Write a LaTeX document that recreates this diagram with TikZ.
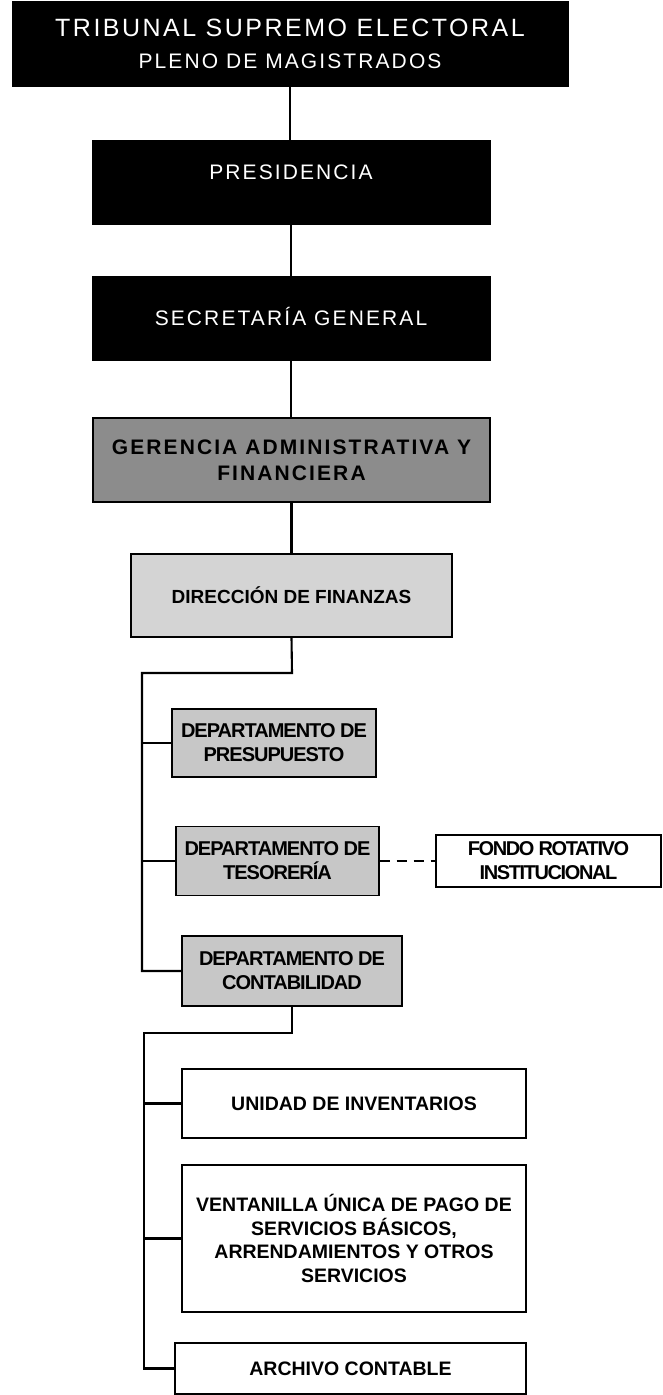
\documentclass[tikz,border=0pt]{standalone}
\usepackage{fontspec}
\setmainfont{Liberation Sans}
\newfontfamily\spacedfont[LetterSpace=10]{Liberation Sans}
\newfontfamily\gerfont[LetterSpace=10]{Liberation Sans}
\newfontfamily\deptfont[LetterSpace=-5]{Liberation Sans}
\newfontfamily\fondofont[LetterSpace=-7]{Liberation Sans}
\begin{document}
\begin{tikzpicture}[x=1pt,y=-1pt,
  blackbox/.style={fill=black,draw=black,text=white,inner sep=0pt,align=center,
    font=\spacedfont\fontsize{21}{32}\selectfont},
  gerbox/.style={fill=black!45,draw=black,line width=1.6pt,inner sep=0pt,align=center,
    font=\gerfont\bfseries\fontsize{21}{26}\selectfont},
  dirbox/.style={fill=black!17,draw=black,line width=1.3pt,inner sep=0pt,align=center,
    font=\bfseries\fontsize{19}{24}\selectfont},
  deptbox/.style={fill=black!22,draw=black,line width=1.3pt,inner sep=0pt,align=center,
    font=\deptfont\bfseries\fontsize{20}{24}\selectfont},
  whitebox/.style={fill=white,draw=black,line width=1.2pt,inner sep=0pt,align=center,
    font=\bfseries\fontsize{19.5}{23.5}\selectfont},
  conn/.style={line width=2.1pt},
  dconn/.style={line width=1.6pt,dash pattern=on 10pt off 7pt}]
\useasboundingbox (0,0) rectangle (663,1395);

\node[blackbox,minimum width=556pt,minimum height=85pt] (tse) at (290,43.5)
  {{\fontsize{25}{32}\selectfont TRIBUNAL SUPREMO ELECTORAL}\\PLENO DE MAGISTRADOS};
\node[blackbox,minimum width=398pt,minimum height=84pt,text depth=19pt] (pres) at (291,182) {PRESIDENCIA};
\node[blackbox,minimum width=398pt,minimum height=84pt,text height=15pt] (sec) at (291,318) {SECRETARÍA GENERAL};
\node[gerbox,minimum width=397pt,minimum height=84pt] (ger) at (291.5,460) {GERENCIA ADMINISTRATIVA Y\\FINANCIERA};
\node[dirbox,minimum width=321pt,minimum height=83pt] (dir) at (291.5,595.5) {DIRECCIÓN DE FINANZAS};

\node[deptbox,minimum width=204pt,minimum height=68pt] (presup) at (274,743) {DEPARTAMENTO DE\\PRESUPUESTO};
\node[deptbox,minimum width=203pt,minimum height=69pt] (teso) at (277.5,861) {DEPARTAMENTO DE\\TESORERÍA};
\node[deptbox,minimum width=220pt,minimum height=70pt] (conta) at (292,971) {DEPARTAMENTO DE\\CONTABILIDAD};
\node[whitebox,minimum width=225pt,minimum height=52pt,font=\fondofont\bfseries\fontsize{20}{24}\selectfont] (fondo) at (548.5,861) {FONDO ROTATIVO\\INSTITUCIONAL};

\node[whitebox,minimum width=344pt,minimum height=69pt] (inv) at (354,1103.5) {UNIDAD DE INVENTARIOS};
\node[whitebox,minimum width=344pt,minimum height=147pt] (vent) at (354,1238.5)
  {VENTANILLA ÚNICA DE PAGO DE\\SERVICIOS BÁSICOS,\\ARRENDAMIENTOS Y OTROS\\SERVICIOS};
\node[whitebox,minimum width=351pt,minimum height=51pt] (arch) at (350.5,1368.5) {ARCHIVO CONTABLE};

% main spine
\draw[conn] (tse.south) -- (tse.south |- pres.north);
\draw[conn] (pres.south) -- (pres.south |- sec.north);
\draw[conn] (sec.south) -- (sec.south |- ger.north);
\draw[conn] (ger.south) -- (ger.south |- dir.north);

% finance branch
\coordinate (dj) at (292,673);
\coordinate (dl) at (142,673);
\draw[conn] (dir.south) -- (dj) -- (dl) |- (conta.west);
\draw[conn] (presup.west -| dl) -- (presup.west);
\draw[conn] (teso.west -| dl) -- (teso.west);
\draw[dconn] (teso.east) -- (fondo.west);

% accounting branch
\coordinate (cj) at (292,1033);
\coordinate (cl) at (144,1033);
\draw[conn] (conta.south) -- (cj) -- (cl) |- (arch.west);
\draw[conn] (inv.west -| cl) -- (inv.west);
\draw[conn] (vent.west -| cl) -- (vent.west);
\end{tikzpicture}
\end{document}
